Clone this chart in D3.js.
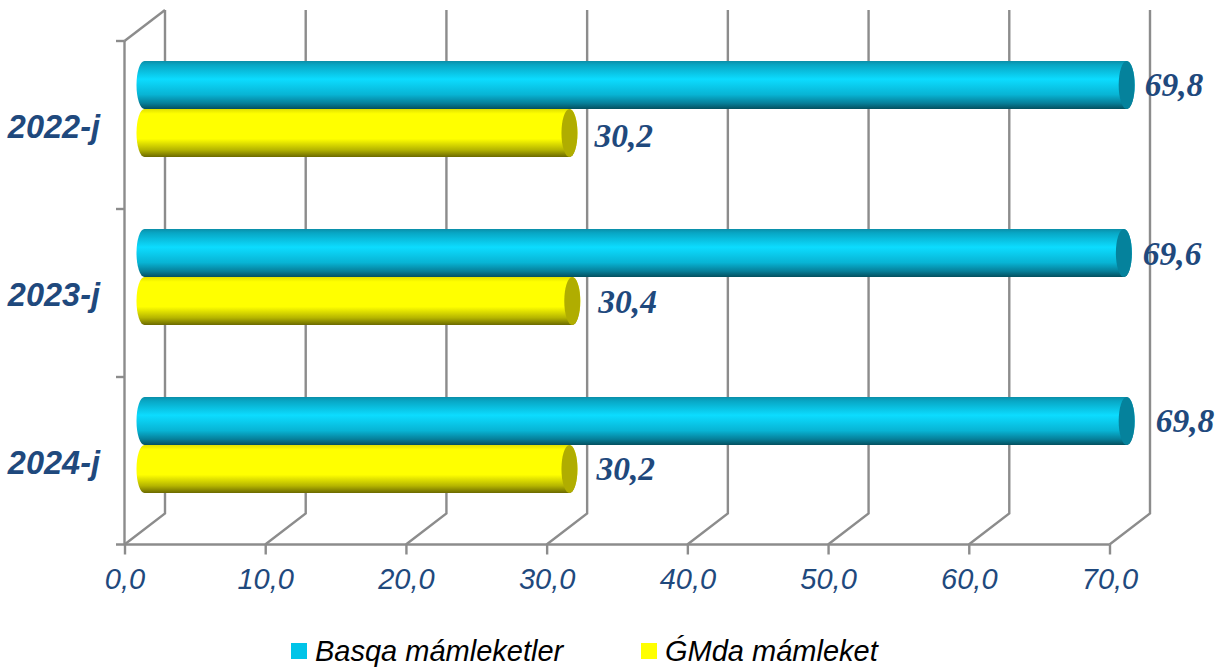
<!DOCTYPE html>
<html>
<head>
<meta charset="utf-8">
<script src="https://cdnjs.cloudflare.com/ajax/libs/d3/7.8.5/d3.min.js"></script>
<style>
  html, body { margin: 0; padding: 0; background: #fff; }
  svg { display: block; }
</style>
</head>
<body>
<script>
// data:
var categories = ["2022-j", "2023-j", "2024-j"];
var series_names = ["Basqa mámleketler", "ǴMda mámleket"];
var basqa_values = [69.8, 69.6, 69.8];
var gmda_values = [30.2, 30.4, 30.2];
var x_ticks = [0, 10, 20, 30, 40, 50, 60, 70];

// SVG size:
var w_svg = 1229;
var h_svg = 669;
var svg = d3.select("body").append("svg")
  .attr("width", w_svg)
  .attr("height", h_svg);

// 3d box: the back wall is shifted from the front by depth_x, depth_y
var depth_x = 40.5;
var depth_y = -31;
var bar_shift = 20;   // bars stand in the middle of the box
var cap_rx = 8;
var text_blue = "#1f497d";
var grid_col = "#8c8c8c";

// scales:
var xScale = d3.scaleLinear().domain([0, 70]).range([124.5, 1109.5]);
var yScale = d3.scaleBand().domain(categories).range([41, 545]);
var barScale = d3.scaleBand().domain(series_names).range([20, 116]);

var fmt = function(d) { return d3.format(".1f")(d).replace(".", ","); };

// gradients:
var defs = svg.append("defs");
function gradient(id, stops) {
  var g = defs.append("linearGradient").attr("id", id)
    .attr("x1", 0).attr("y1", 0).attr("x2", 0).attr("y2", 1);
  stops.forEach(function(s) {
    g.append("stop").attr("offset", s[0]).attr("stop-color", s[1]);
  });
}
gradient("cyl0", [[0, "#0a8ea8"], [0.08, "#08a6c4"], [0.38, "#0cdcff"], [0.7, "#08b4d4"], [0.88, "#067f99"], [1, "#03505f"]]);
gradient("cyl1", [[0, "#e0e000"], [0.1, "#ffff00"], [0.62, "#ffff00"], [0.85, "#b5b500"], [1, "#6b6900"]]);

// back wall and floor:
var grid = svg.append("g")
  .attr("stroke", grid_col).attr("stroke-width", 2.4).attr("fill", "none");
grid.selectAll("path.wall")
  .data(x_ticks).enter().append("path")
  .attr("class", "wall")
  .attr("d", function(d) {
    var x0 = xScale(d);
    return "M" + x0 + ",544.5L" + (x0 + depth_x) + "," + (544.5 + depth_y) + "L" + (x0 + depth_x) + ",10";
  });
// top of the side wall:
grid.append("path")
  .attr("d", "M" + xScale(0) + ",41L" + (xScale(0) + depth_x) + ",10");

// x axis:
var x_axis = d3.axisBottom(xScale).tickValues(x_ticks).tickFormat(fmt).tickSizeInner(10).tickSizeOuter(0).tickPadding(14);
var gx = svg.append("g").attr("transform", "translate(0,544.5)").call(x_axis);
gx.select(".domain").attr("d", "M116,0H" + xScale(70)).attr("stroke", grid_col).attr("stroke-width", 2.4);
gx.selectAll(".tick line").attr("stroke", grid_col).attr("stroke-width", 2.4);
gx.selectAll(".tick text")
  .attr("fill", text_blue)
  .style("font", "italic 29px 'Liberation Sans'");

// left axis, ticks between the categories:
var left = svg.append("g").attr("stroke", grid_col).attr("stroke-width", 2.4);
left.append("line")
  .attr("x1", xScale(0)).attr("x2", xScale(0))
  .attr("y1", yScale.range()[0]).attr("y2", yScale.range()[1]);
left.selectAll("line.tk")
  .data(categories).enter().append("line")
  .attr("class", "tk")
  .attr("x1", 116).attr("x2", xScale(0))
  .attr("y1", function(d) { return yScale(d); })
  .attr("y2", function(d) { return yScale(d); });

// category labels:
svg.selectAll("text.cat")
  .data(categories).enter().append("text")
  .attr("class", "cat")
  .text(function(d) { return d; })
  .attr("x", 100)
  .attr("y", function(d) { return yScale(d) + 97; })
  .attr("text-anchor", "end")
  .attr("fill", text_blue)
  .style("font", "italic bold 32.5px 'Liberation Sans'");

// cylinders: yellow first, cyan over it
var cap_cols = ["#05829c", "#b0ad00"];
var bar_rows = [basqa_values, gmda_values];
// small shifts of the value labels, the original has them hand placed
var label_dx = [[10, 11, 21], [17, 18, 19]];
var label_dy = [[0, 1, 0], [3, 1, 0]];

[1, 0].forEach(function(s) {
  var name = series_names[s];
  var h = barScale.bandwidth();
  var g = svg.append("g");
  categories.forEach(function(c, i) {
    var x0 = xScale(0) + bar_shift;
    var x1 = xScale(bar_rows[s][i]) + bar_shift;
    var y0 = yScale(c) + barScale(name);
    var y1 = y0 + h;
    g.append("path")
      .attr("d", "M" + x0 + "," + y0 + "H" + x1
        + "A" + cap_rx + "," + (h / 2) + " 0 0 1 " + x1 + "," + y1
        + "H" + x0
        + "A" + cap_rx + "," + (h / 2) + " 0 0 1 " + x0 + "," + y0 + "Z")
      .attr("fill", "url(#cyl" + s + ")");
    g.append("ellipse")
      .attr("cx", x1).attr("cy", (y0 + y1) / 2)
      .attr("rx", cap_rx).attr("ry", h / 2)
      .attr("fill", cap_cols[s]);
    svg.append("text")
      .text(fmt(bar_rows[s][i]))
      .attr("x", x1 + cap_rx + label_dx[s][i])
      .attr("y", (y0 + y1) / 2 + 11 + label_dy[s][i])
      .attr("fill", text_blue)
      .style("font", "italic bold 33.5px 'Liberation Serif'");
  });
});

// legend:
var legend_x = [291, 641];
var legend_cols = ["#00c4e8", "#ffff00"];
series_names.forEach(function(name, i) {
  svg.append("rect")
    .attr("x", legend_x[i]).attr("y", 643)
    .attr("width", 16).attr("height", 16)
    .attr("fill", legend_cols[i]);
  svg.append("text")
    .text(name)
    .attr("x", legend_x[i] + 24).attr("y", 661)
    .attr("fill", "#000")
    .style("font", "italic 29px 'Liberation Sans'");
});
</script>
</body>
</html>
